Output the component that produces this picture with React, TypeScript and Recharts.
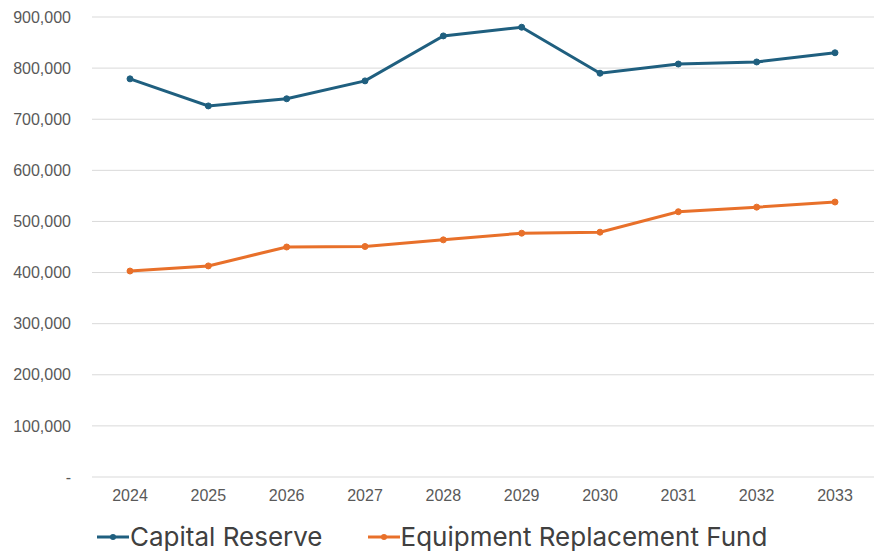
import React from 'react';
import { LineChart, Line, XAxis, YAxis, CartesianGrid, Legend } from 'recharts';

const YEARS = ['2024', '2025', '2026', '2027', '2028', '2029', '2030', '2031', '2032', '2033'];
const CAPITAL_RESERVE = [779000, 726000, 740000, 775000, 863000, 880000, 790000, 808000, 812000, 830000];
const EQUIPMENT_FUND = [403000, 413000, 450000, 451000, 464000, 477000, 479000, 519000, 528000, 538000];
const Y_TICKS = [0, 100000, 200000, 300000, 400000, 500000, 600000, 700000, 800000, 900000];

const BLUE = '#1f5f7f';
const ORANGE = '#e8702a';

const data = YEARS.map((year, i) => ({
  year,
  capital: CAPITAL_RESERVE[i],
  equipment: EQUIPMENT_FUND[i],
}));

const formatY = (v: number) => (v === 0 ? '-' : v.toLocaleString('en-US'));

const tickStyle = { fill: '#595959', fontSize: 16, fontFamily: '"Liberation Sans", Arial, sans-serif' };

const LegendContent = ({ payload }: any) => (
  <div style={{ display: 'flex', alignItems: 'center', paddingLeft: 97, paddingTop: 3 }}>
    {(payload || []).map((entry: any, i: number) => (
      <div key={i} style={{ display: 'flex', alignItems: 'center', marginRight: 45 }}>
        <svg width={32} height={12} style={{ marginRight: 1 }}>
          <line x1={0} y1={6} x2={32} y2={6} stroke={entry.color} strokeWidth={3} />
          <circle cx={16} cy={6} r={3} fill={entry.color} />
        </svg>
        <span style={{ fontSize: 26, lineHeight: '30px', color: '#404040', fontFamily: 'Inter, sans-serif' }}>
          {entry.value}
        </span>
      </div>
    ))}
  </div>
);

export default function App() {
  return (
    <div style={{ position: 'absolute', left: 0, top: 0, width: 878, height: 554, background: '#fff' }}>
      <LineChart width={878} height={554} data={data} margin={{ top: 17, right: 4, left: 0, bottom: 0 }}>
        <CartesianGrid vertical={false} stroke="#d9d9d9" strokeWidth={1} />
        <XAxis
          dataKey="year"
          axisLine={false}
          tickLine={false}
          tickSize={0}
          tickMargin={13}
          height={42}
          padding={{ left: 38, right: 39 }}
          tick={tickStyle}
        />
        <YAxis
          domain={[0, 900000]}
          ticks={Y_TICKS}
          tickFormatter={formatY}
          axisLine={false}
          tickLine={false}
          tickSize={0}
          tickMargin={21}
          width={92}
          interval={0}
          tick={tickStyle}
        />
        <Legend verticalAlign="bottom" height={35} content={<LegendContent />} />
        <Line
          name="Capital Reserve"
          dataKey="capital"
          stroke={BLUE}
          strokeWidth={3}
          dot={{ r: 3, fill: BLUE, stroke: BLUE, strokeWidth: 1 }}
          isAnimationActive={false}
        />
        <Line
          name="Equipment Replacement Fund"
          dataKey="equipment"
          stroke={ORANGE}
          strokeWidth={3}
          dot={{ r: 3, fill: ORANGE, stroke: ORANGE, strokeWidth: 1 }}
          isAnimationActive={false}
        />
      </LineChart>
    </div>
  );
}
